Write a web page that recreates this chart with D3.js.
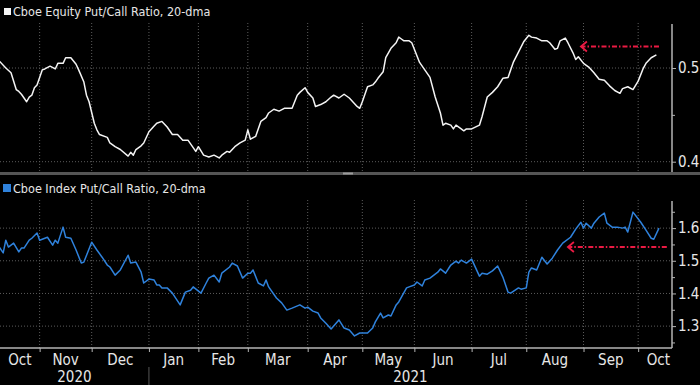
<!DOCTYPE html>
<html>
<head>
<meta charset="utf-8">
<script src="https://cdn.jsdelivr.net/npm/d3@7"></script>
<style>
  body { margin: 0; background: #000; }
  svg { display: block; }
  text { font-family: "Liberation Sans Narrow", "Arial Narrow", "DejaVu Sans Condensed", sans-serif; }
</style>
</head>
<body>
<svg id="chart"></svg>
<script>
const svgWidth = 700;
const svgHeight = 385;

// trading calendar used for the x axis (Bloomberg plots trading days, not calendar days)
const firstDay = "2020-10-09";
const lastDay = "2021-10-20";
const marketHolidays = ["2020-11-26", "2020-12-25", "2021-01-01", "2021-01-18", "2021-02-15",
	"2021-04-02", "2021-05-31", "2021-07-05", "2021-09-06"];

const monthLabels = ["Oct", "Nov", "Dec", "Jan", "Feb", "Mar", "Apr", "May", "Jun", "Jul", "Aug", "Sep", "Oct"];
const yearLabels = ["2020", "2021"];
const topTicks = [0.4, 0.5];
const topMinorTicks = [0.45];
const bottomTicks = [1.3, 1.4, 1.5, 1.6];
const bottomMinorTicks = [1.25, 1.35, 1.45, 1.55, 1.65];

const topLegend = "Cboe Equity Put/Call Ratio, 20-dma";
const bottomLegend = "Cboe Index Put/Call Ratio, 20-dma";

// Cboe equity put/call ratio, 20-dma
const equityPcr = [
	["2020-10-09", 0.509], ["2020-10-14", 0.500], ["2020-10-16", 0.495], ["2020-10-20", 0.477],
	["2020-10-21", 0.475], ["2020-10-22", 0.472], ["2020-10-26", 0.464], ["2020-10-27", 0.469],
	["2020-10-28", 0.471], ["2020-10-29", 0.479], ["2020-10-30", 0.482], ["2020-11-03", 0.498],
	["2020-11-04", 0.499], ["2020-11-06", 0.502], ["2020-11-10", 0.499], ["2020-11-11", 0.505],
	["2020-11-13", 0.505], ["2020-11-16", 0.511], ["2020-11-18", 0.511], ["2020-11-20", 0.504],
	["2020-11-23", 0.498], ["2020-11-25", 0.485], ["2020-11-27", 0.471], ["2020-11-30", 0.464],
	["2020-12-02", 0.441], ["2020-12-03", 0.434], ["2020-12-04", 0.429], ["2020-12-09", 0.426],
	["2020-12-10", 0.420], ["2020-12-14", 0.416], ["2020-12-16", 0.413], ["2020-12-21", 0.406],
	["2020-12-22", 0.410], ["2020-12-23", 0.407], ["2020-12-24", 0.413], ["2020-12-29", 0.417],
	["2020-12-30", 0.420], ["2021-01-04", 0.432], ["2021-01-06", 0.438], ["2021-01-07", 0.441],
	["2021-01-11", 0.443], ["2021-01-13", 0.437], ["2021-01-15", 0.429], ["2021-01-20", 0.429],
	["2021-01-22", 0.423], ["2021-01-26", 0.423], ["2021-01-28", 0.415], ["2021-01-29", 0.411],
	["2021-02-01", 0.416], ["2021-02-03", 0.407], ["2021-02-05", 0.405], ["2021-02-09", 0.407],
	["2021-02-11", 0.404], ["2021-02-12", 0.407], ["2021-02-17", 0.411], ["2021-02-18", 0.410],
	["2021-02-22", 0.416], ["2021-02-24", 0.420], ["2021-02-26", 0.423], ["2021-03-01", 0.434],
	["2021-03-02", 0.424], ["2021-03-04", 0.427], ["2021-03-08", 0.443], ["2021-03-10", 0.447],
	["2021-03-11", 0.452], ["2021-03-15", 0.456], ["2021-03-17", 0.454], ["2021-03-19", 0.457],
	["2021-03-24", 0.457], ["2021-03-26", 0.471], ["2021-03-29", 0.474], ["2021-03-31", 0.479],
	["2021-04-01", 0.474], ["2021-04-06", 0.468], ["2021-04-07", 0.459], ["2021-04-09", 0.461],
	["2021-04-13", 0.464], ["2021-04-15", 0.469], ["2021-04-16", 0.471], ["2021-04-20", 0.468],
	["2021-04-22", 0.472], ["2021-04-26", 0.468], ["2021-04-29", 0.459], ["2021-04-30", 0.457],
	["2021-05-03", 0.464], ["2021-05-05", 0.480], ["2021-05-07", 0.482], ["2021-05-10", 0.485],
	["2021-05-11", 0.489], ["2021-05-13", 0.496], ["2021-05-14", 0.511], ["2021-05-18", 0.521],
	["2021-05-20", 0.527], ["2021-05-21", 0.533], ["2021-05-24", 0.531], ["2021-05-25", 0.529],
	["2021-05-27", 0.529], ["2021-05-28", 0.527], ["2021-06-03", 0.506], ["2021-06-07", 0.498],
	["2021-06-09", 0.490], ["2021-06-11", 0.469], ["2021-06-15", 0.452], ["2021-06-16", 0.439],
	["2021-06-17", 0.441], ["2021-06-21", 0.439], ["2021-06-22", 0.435], ["2021-06-23", 0.439],
	["2021-06-25", 0.435], ["2021-06-28", 0.433], ["2021-06-29", 0.435], ["2021-07-01", 0.435],
	["2021-07-07", 0.439], ["2021-07-08", 0.448], ["2021-07-12", 0.469], ["2021-07-14", 0.474],
	["2021-07-16", 0.480], ["2021-07-20", 0.489], ["2021-07-22", 0.490], ["2021-07-26", 0.506],
	["2021-07-28", 0.517], ["2021-07-30", 0.528], ["2021-08-03", 0.535], ["2021-08-04", 0.533],
	["2021-08-06", 0.532], ["2021-08-10", 0.529], ["2021-08-12", 0.529], ["2021-08-13", 0.527],
	["2021-08-17", 0.520], ["2021-08-18", 0.521], ["2021-08-19", 0.529], ["2021-08-23", 0.532],
	["2021-08-24", 0.527], ["2021-08-26", 0.516], ["2021-08-27", 0.509], ["2021-08-30", 0.512],
	["2021-09-01", 0.505], ["2021-09-03", 0.501], ["2021-09-08", 0.495], ["2021-09-10", 0.488],
	["2021-09-14", 0.487], ["2021-09-16", 0.481], ["2021-09-20", 0.476], ["2021-09-22", 0.473],
	["2021-09-23", 0.478], ["2021-09-27", 0.480], ["2021-09-29", 0.477], ["2021-10-01", 0.486],
	["2021-10-05", 0.500], ["2021-10-06", 0.505], ["2021-10-08", 0.511], ["2021-10-12", 0.514]
];

// Cboe index put/call ratio, 20-dma
const indexPcr = [
	["2020-10-09", 1.548], ["2020-10-13", 1.524], ["2020-10-14", 1.563], ["2020-10-15", 1.542],
	["2020-10-19", 1.554], ["2020-10-21", 1.527], ["2020-10-22", 1.539], ["2020-10-23", 1.539],
	["2020-10-27", 1.563], ["2020-10-28", 1.569], ["2020-10-30", 1.585], ["2020-11-02", 1.563],
	["2020-11-04", 1.569], ["2020-11-05", 1.572], ["2020-11-09", 1.548], ["2020-11-10", 1.563],
	["2020-11-11", 1.554], ["2020-11-13", 1.603], ["2020-11-16", 1.572], ["2020-11-18", 1.569],
	["2020-11-20", 1.533], ["2020-11-24", 1.493], ["2020-11-25", 1.496], ["2020-12-01", 1.557],
	["2020-12-03", 1.533], ["2020-12-07", 1.511], ["2020-12-09", 1.487], ["2020-12-10", 1.481],
	["2020-12-14", 1.456], ["2020-12-16", 1.472], ["2020-12-21", 1.517], ["2020-12-22", 1.493],
	["2020-12-24", 1.496], ["2020-12-29", 1.465], ["2020-12-30", 1.432], ["2021-01-04", 1.444],
	["2021-01-06", 1.441], ["2021-01-07", 1.426], ["2021-01-08", 1.426], ["2021-01-11", 1.417],
	["2021-01-13", 1.417], ["2021-01-15", 1.401], ["2021-01-21", 1.365], ["2021-01-25", 1.404],
	["2021-01-27", 1.410], ["2021-01-28", 1.420], ["2021-02-02", 1.401], ["2021-02-04", 1.432],
	["2021-02-05", 1.447], ["2021-02-09", 1.456], ["2021-02-11", 1.435], ["2021-02-12", 1.462],
	["2021-02-18", 1.481], ["2021-02-19", 1.493], ["2021-02-23", 1.484], ["2021-02-25", 1.447],
	["2021-03-01", 1.462], ["2021-03-02", 1.462], ["2021-03-03", 1.472], ["2021-03-05", 1.432],
	["2021-03-09", 1.423], ["2021-03-10", 1.441], ["2021-03-11", 1.420], ["2021-03-16", 1.386],
	["2021-03-18", 1.371], ["2021-03-22", 1.349], ["2021-03-24", 1.355], ["2021-03-29", 1.365],
	["2021-03-31", 1.355], ["2021-04-01", 1.358], ["2021-04-06", 1.346], ["2021-04-08", 1.340],
	["2021-04-09", 1.325], ["2021-04-13", 1.309], ["2021-04-15", 1.291], ["2021-04-20", 1.319],
	["2021-04-22", 1.294], ["2021-04-26", 1.288], ["2021-04-28", 1.270], ["2021-04-30", 1.279],
	["2021-05-05", 1.279], ["2021-05-07", 1.294], ["2021-05-10", 1.313], ["2021-05-12", 1.340],
	["2021-05-13", 1.325], ["2021-05-17", 1.334], ["2021-05-18", 1.331], ["2021-05-20", 1.365],
	["2021-05-21", 1.374], ["2021-05-26", 1.417], ["2021-05-27", 1.420], ["2021-06-01", 1.426],
	["2021-06-02", 1.435], ["2021-06-04", 1.423], ["2021-06-07", 1.441], ["2021-06-09", 1.447],
	["2021-06-14", 1.465], ["2021-06-15", 1.475], ["2021-06-17", 1.462], ["2021-06-21", 1.487],
	["2021-06-23", 1.499], ["2021-06-24", 1.493], ["2021-06-25", 1.502], ["2021-06-29", 1.493],
	["2021-06-30", 1.499], ["2021-07-01", 1.505], ["2021-07-07", 1.453], ["2021-07-08", 1.462],
	["2021-07-12", 1.459], ["2021-07-14", 1.469], ["2021-07-16", 1.484], ["2021-07-20", 1.450],
	["2021-07-22", 1.404], ["2021-07-23", 1.401], ["2021-07-28", 1.417], ["2021-07-29", 1.413],
	["2021-08-02", 1.417], ["2021-08-03", 1.465], ["2021-08-04", 1.478], ["2021-08-06", 1.472],
	["2021-08-10", 1.511], ["2021-08-12", 1.490], ["2021-08-16", 1.508], ["2021-08-18", 1.533],
	["2021-08-20", 1.554], ["2021-08-25", 1.572], ["2021-08-27", 1.597], ["2021-08-31", 1.618],
	["2021-09-01", 1.600], ["2021-09-02", 1.615], ["2021-09-07", 1.600], ["2021-09-08", 1.615],
	["2021-09-10", 1.634], ["2021-09-14", 1.646], ["2021-09-15", 1.615], ["2021-09-17", 1.603],
	["2021-09-21", 1.603], ["2021-09-23", 1.600], ["2021-09-24", 1.603], ["2021-09-27", 1.588],
	["2021-09-29", 1.649], ["2021-10-04", 1.618], ["2021-10-06", 1.594], ["2021-10-08", 1.569],
	["2021-10-11", 1.566], ["2021-10-13", 1.600]
];

// red dashed arrows: [from date, to date (arrow tip), level]
const topArrow = ["2021-10-13", "2021-08-31", 0.523];
const bottomArrow = ["2021-10-18", "2021-08-24", 1.542];

const svg = d3.select("#chart")
		.attr("width", svgWidth)
		.attr("height", svgHeight);

svg.append("rect")
	.attr("width", svgWidth)
	.attr("height", svgHeight)
	.attr("fill", "#000");

const parseDay = d3.utcParse("%Y-%m-%d");
const formatDay = d3.utcFormat("%Y-%m-%d");
const tradingDays = d3.utcDay.range(parseDay(firstDay), d3.utcDay.offset(parseDay(lastDay), 1))
		.filter(d => d.getUTCDay() % 6 !== 0 && !marketHolidays.includes(formatDay(d)));
const dayIndex = new Map(tradingDays.map((d, i) => [formatDay(d), i]));

const axisX = 672;
const xScale = d3.scaleLinear()
		.domain([0, tradingDays.length - 1])
		.range([-2, axisX]);
const xDay = s => xScale(dayIndex.get(s));

// first trading day of every month (skip the first day of the series)
const monthStarts = tradingDays
		.map((d, i) => i)
		.filter(i => i > 0 && tradingDays[i].getUTCMonth() !== tradingDays[i - 1].getUTCMonth());

const yTop = d3.scaleLinear().domain([0.389, 0.547]).range([172, 24]);
const yBottom = d3.scaleLinear().domain([1.233, 1.683]).range([348, 201]);

const gridColor = "#5c5c5c";
const axisColor = "#b4b4b4";
const textColor = "#e6e6e6";
const blue = "#2f82dc";
const red = "#ea1a43";

function drawPanel (yScale, ticks, minorTicks, gridTop) {
	let [y0, y1] = yScale.range();
	let g = svg.append("g");

	// vertical grid at month starts
	g.selectAll(".vgrid")
		.data(monthStarts)
		.enter()
		.append("line")
			.attr("x1", d => xScale(d))
			.attr("x2", d => xScale(d))
			.attr("y1", gridTop)
			.attr("y2", y0)
			.attr("stroke", gridColor)
			.attr("stroke-dasharray", "1,2");

	// horizontal grid
	g.selectAll(".hgrid")
		.data(ticks)
		.enter()
		.append("line")
			.attr("x1", 0)
			.attr("x2", axisX)
			.attr("y1", d => yScale(d))
			.attr("y2", d => yScale(d))
			.attr("stroke", gridColor)
			.attr("stroke-dasharray", "1,2");

	// right axis
	let axis = d3.axisRight(yScale)
			.tickValues(ticks)
			.tickSize(4)
			.tickPadding(2)
			.tickFormat(d3.format(".1f"));
	let ga = svg.append("g")
		.attr("transform", `translate(${axisX}, 0)`)
		.call(axis);
	ga.select(".domain").remove();
	ga.selectAll(".tick line").attr("stroke", axisColor);
	ga.selectAll(".tick text")
		.attr("fill", textColor)
		.attr("font-size", "15px")
		.attr("font-family", null);

	svg.append("g")
		.attr("transform", `translate(${axisX}, 0)`)
		.call(d3.axisRight(yScale).tickValues(minorTicks).tickSize(3).tickFormat(""))
		.call(a => a.select(".domain").remove())
		.selectAll(".tick line").attr("stroke", axisColor);

	svg.append("line")
		.attr("x1", axisX)
		.attr("x2", axisX)
		.attr("y1", y1)
		.attr("y2", y0)
		.attr("stroke", axisColor)
		.attr("stroke-width", 1.5);
}

drawPanel(yTop, topTicks, topMinorTicks, 23);
drawPanel(yBottom, bottomTicks, bottomMinorTicks, 200);

// separator between the panels
svg.append("rect")
	.attr("x", 0)
	.attr("y", 172)
	.attr("width", svgWidth)
	.attr("height", 3)
	.attr("fill", "#555");
svg.append("rect")
	.attr("x", 343)
	.attr("y", 172.5)
	.attr("width", 10)
	.attr("height", 2)
	.attr("fill", "#9a9a9a");

// Lines
let line = yScale => d3.line()
		.x(d => xDay(d[0]))
		.y(d => yScale(d[1]));

svg.append("path")
	.datum(equityPcr)
	.attr("d", line(yTop))
	.attr("fill", "none")
	.attr("stroke", "#f4f4f4")
	.attr("stroke-width", 1.5)
	.attr("stroke-linejoin", "round");

svg.append("path")
	.datum(indexPcr)
	.attr("d", line(yBottom))
	.attr("fill", "none")
	.attr("stroke", blue)
	.attr("stroke-width", 1.5)
	.attr("stroke-linejoin", "round");

// Arrows
function drawArrow (arrow, yScale) {
	let xs = xDay(arrow[0]), xt = xDay(arrow[1]), y = yScale(arrow[2]);
	svg.append("line")
		.attr("x1", xs)
		.attr("x2", xt + 1)
		.attr("y1", y)
		.attr("y2", y)
		.attr("stroke", red)
		.attr("stroke-width", 2)
		.attr("stroke-dasharray", "5,2,1.5,2");
	svg.append("path")
		.attr("d", `M${xt + 6},${y - 5}L${xt},${y}L${xt + 6},${y + 5}`)
		.attr("fill", "none")
		.attr("stroke", red)
		.attr("stroke-width", 1.8);
}
drawArrow(topArrow, yTop);
drawArrow(bottomArrow, yBottom);

// Bottom time axis
let xAxisY = yBottom.range()[0];
svg.append("line")
	.attr("x1", 0)
	.attr("x2", axisX)
	.attr("y1", xAxisY)
	.attr("y2", xAxisY)
	.attr("stroke", axisColor)
	.attr("stroke-width", 1.5);

svg.append("g")
	.attr("transform", `translate(0, ${xAxisY})`)
	.call(d3.axisBottom(xScale).tickValues(monthStarts).tickSize(4).tickFormat(""))
	.call(a => a.select(".domain").remove())
	.selectAll(".tick line").attr("stroke", axisColor);

// month labels centred in their month; the last (partial) one sits against the axis
let bounds = [0, ...monthStarts.map(i => xScale(i)), axisX];
let lastMonth = monthLabels.length - 1;
svg.selectAll(".month")
	.data(monthLabels)
	.enter()
	.append("text")
		.text(d => d)
		.attr("x", (d, i) => i === lastMonth ? axisX - 2 : (bounds[i] + bounds[i + 1]) / 2)
		.attr("y", 365)
		.attr("text-anchor", (d, i) => i === lastMonth ? "end" : "middle")
		.attr("font-size", "15px")
		.attr("fill", textColor);

// year labels, split at January
let janIndex = monthStarts.find(i => tradingDays[i].getUTCMonth() === 0);
let yearBounds = [0, xScale(janIndex), axisX];
svg.selectAll(".year")
	.data(yearLabels)
	.enter()
	.append("text")
		.text(d => d)
		.attr("x", (d, i) => (yearBounds[i] + yearBounds[i + 1]) / 2)
		.attr("y", 382)
		.attr("text-anchor", "middle")
		.attr("font-size", "15px")
		.attr("fill", textColor);
svg.append("line")
	.attr("x1", xScale(janIndex))
	.attr("x2", xScale(janIndex))
	.attr("y1", 367)
	.attr("y2", svgHeight)
	.attr("stroke", "#555");

// Legends
svg.append("rect")
	.attr("x", 4).attr("y", 8).attr("width", 7).attr("height", 7)
	.attr("fill", "#f4f4f4");
svg.append("text")
	.text(topLegend)
	.attr("x", 13)
	.attr("y", 16)
	.attr("font-size", "12.5px")
	.attr("fill", textColor);

svg.append("rect")
	.attr("x", 3).attr("y", 184).attr("width", 8).attr("height", 8)
	.attr("fill", blue);
svg.append("text")
	.text(bottomLegend)
	.attr("x", 13)
	.attr("y", 193)
	.attr("font-size", "12.5px")
	.attr("fill", textColor);
</script>
</body>
</html>
